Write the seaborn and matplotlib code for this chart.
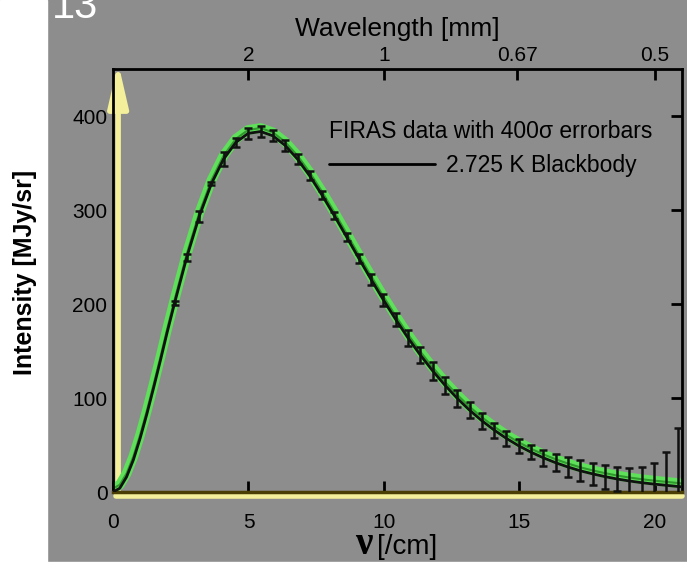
import numpy as np
import seaborn as sns
import matplotlib.pyplot as plt
import matplotlib.transforms as mtransforms
from matplotlib.lines import Line2D

# FIRAS monopole spectrum
nu = [2.27, 2.72, 3.18, 3.63, 4.08, 4.54, 4.99, 5.45, 5.90, 6.35, 6.81, 7.26,
      7.71, 8.17, 8.62, 9.08, 9.53, 9.98, 10.44, 10.89, 11.34, 11.80, 12.25,
      12.71, 13.16, 13.61, 14.07, 14.52, 14.97, 15.43, 15.88, 16.34, 16.79,
      17.24, 17.70, 18.15, 18.61, 19.06, 19.51, 19.97, 20.42, 20.87, 21.33]
intensity = [200.7, 249.5, 293.0, 327.8, 354.1, 372.1, 381.5, 383.5, 378.9,
             368.8, 354.1, 336.3, 316.1, 293.9, 271.4, 248.2, 225.9, 204.3,
             183.3, 163.8, 145.8, 128.8, 113.6, 99.5, 87.0, 75.9, 65.8, 57.0,
             49.2, 42.3, 36.4, 31.1, 26.6, 22.6, 19.3, 16.4, 13.8, 11.7, 9.9,
             8.4, 7.1, 5.8, 4.5]
# 400 sigma error bar half-lengths in MJy/sr
err400 = [2.0, 3.6, 6.0, 1.6, 7.6, 4.8, 5.6, 6.0, 6.0, 5.6, 5.2, 4.8, 4.4,
          4.0, 4.4, 4.8, 5.6, 6.4, 7.2, 8.8, 8.8, 9.2, 9.2, 9.2, 8.8, 8.4,
          8.0, 7.6, 7.6, 7.6, 8.4, 9.2, 10.4, 11.2, 12.0, 12.8, 13.2, 14.0,
          16.4, 22.0, 35.2, 62.0, 112.8]

# blackbody curve: low-frequency rise plus the points above
bb_nu = [0.0, 0.25, 0.5, 0.75, 1.0, 1.25, 1.5, 1.75, 2.0] + nu
bb_int = [0.0, 4.0, 16.0, 34.0, 57.0, 83.0, 111.0, 140.0, 170.0] + intensity

wl_ticks = [2, 1, 0.67, 0.5]
wl_labels = ["2", "1", "0.67", "0.5"]
y_ticks = [0, 100, 200, 300, 400]
x_ticks = [0, 5, 10, 15, 20]

GRAY = "#8d8d8d"
GREEN = "#5fe05a"
YELLOW = "#f3ef9a"

sns.set_style("white")
plt.rcParams["font.family"] = ["Liberation Sans", "DejaVu Sans"]
plt.rcParams["text.color"] = "black"
plt.rcParams["axes.labelcolor"] = "black"
plt.rcParams["xtick.color"] = "black"
plt.rcParams["ytick.color"] = "black"

fig = plt.figure(figsize=(6.87, 5.66), dpi=100, facecolor=GRAY)
# white margins of the scanned slide
fig.patches.append(plt.Rectangle((0, 0), 47 / 687, 1, transform=fig.transFigure,
                                 color="white", zorder=0))
fig.patches.append(plt.Rectangle((0, 0), 1, 4 / 566, transform=fig.transFigure,
                                 color="white", zorder=0))

ax = fig.add_axes([113 / 687, 74 / 566, 569 / 687, 423 / 566])
ax.set_facecolor(GRAY)

shift = mtransforms.ScaledTranslation(0, 2.5 / 72, fig.dpi_scale_trans)
sns.lineplot(x=bb_nu, y=bb_int, ax=ax, color=GREEN, lw=7, sort=False,
             transform=ax.transData + shift, zorder=2)
sns.lineplot(x=bb_nu, y=bb_int, ax=ax, color="#2f9a2c", lw=1.5, sort=False,
             transform=ax.transData + shift, zorder=2)
ax.errorbar(nu, intensity, yerr=err400, fmt="none", ecolor="#111111",
            elinewidth=1.8, capsize=3, capthick=1.8, zorder=3)
sns.lineplot(x=bb_nu, y=bb_int, ax=ax, color="#111111", lw=2, sort=False,
             zorder=4)

ax.set_xlim(0, 21.0)
ax.set_ylim(0, 450)
ax.set_xticks(x_ticks)
ax.set_yticks(y_ticks)
ax.tick_params(direction="in", length=8, width=2, right=True, labelsize=15,
               colors="black")
ax.tick_params(axis="x", pad=15)
ax.tick_params(axis="y", pad=4)
ax.set_xlabel("")
ax.set_ylabel("")
for side in ["top", "right", "left"]:
    ax.spines[side].set_color("black")
    ax.spines[side].set_linewidth(2)
ax.spines["bottom"].set_color("#4a3e05")
ax.spines["bottom"].set_linewidth(2.5)

# wavelength axis on top
top = ax.twiny()
top.set_xlim(ax.get_xlim())
top.set_xticks(10 / np.array(wl_ticks))
top.set_xticklabels(wl_labels)
top.tick_params(direction="in", length=8, width=2, labelsize=15, pad=3,
                colors="black")
top.set_xlabel("Wavelength [mm]", fontsize=19, labelpad=7)
for s in top.spines.values():
    s.set_visible(False)

# yellow axis highlights
down = mtransforms.ScaledTranslation(0, -3 / 72, fig.dpi_scale_trans)
ax.add_line(Line2D([0.005, 1], [0, 0], color=YELLOW, lw=4, clip_on=False,
                   zorder=1, transform=ax.transAxes + down))
ax.annotate("", xy=(0.009, 1.015), xytext=(0.009, 0.0),
            xycoords="axes fraction",
            arrowprops=dict(arrowstyle="-|>,head_length=2.6,head_width=0.6",
                            color=YELLOW, lw=4, shrinkA=0, shrinkB=0),
            zorder=1)

leg = ax.legend(handles=[Line2D([], [], color="black", lw=2)],
                labels=["2.725 K Blackbody"],
                title="FIRAS data with 400σ errorbars", alignment="left",
                loc="upper left", bbox_to_anchor=(0.38, 0.88), frameon=False,
                fontsize=16.5, title_fontsize=16.5, handlelength=4.6,
                handletextpad=0.5, borderaxespad=0, borderpad=0,
                labelspacing=0.4)
leg._legend_box.sep = 8

fig.text(25 / 687, 1 - 272 / 566, "Intensity [MJy/sr]", rotation=90,
         fontsize=18, fontweight="bold", ha="center", va="center")
fig.text(372 / 687, 12 / 566, "ν", family="Liberation Serif",
         fontweight="bold", fontsize=28, ha="right", va="baseline")
fig.text(377 / 687, 12 / 566, "[/cm]", fontsize=20, ha="left",
         va="baseline")
fig.text(52 / 687, 1 - 18 / 566, "13", color="white", fontsize=30,
         ha="left", va="baseline")

fig.savefig("out.png", dpi=100, facecolor=GRAY)
